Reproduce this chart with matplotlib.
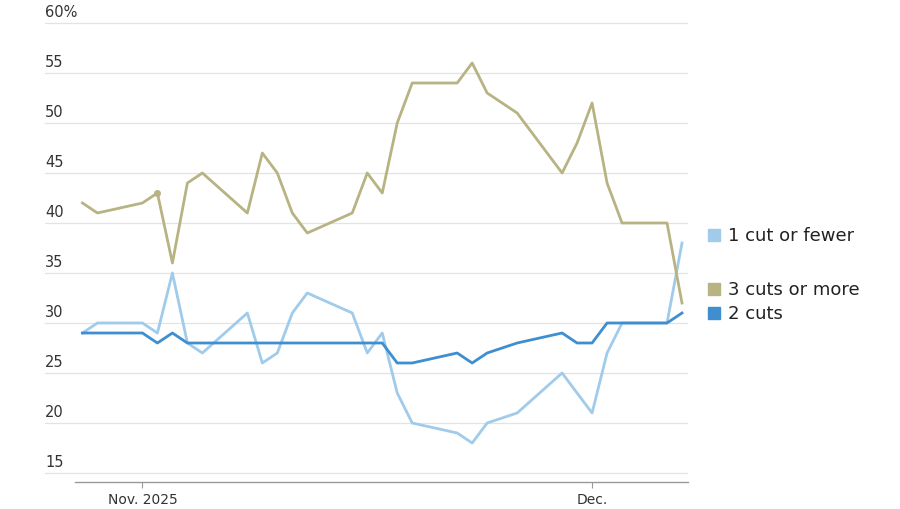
import matplotlib
matplotlib.use("Agg")
import matplotlib.pyplot as plt
import matplotlib.dates as mdates
from datetime import date, timedelta

day_offsets = [-4,-3,0,1,2,3,4,7,8,9,10,11,14,15,16,17,18,21,22,23,25,28,29,30,31,32,35,36]
three_plus = [42,41,42,43,36,44,45,41,47,45,41,39,41,45,43,50,54,54,56,53,51,45,48,52,44,40,40,32]
one_or_fewer = [29,30,30,29,35,28,27,31,26,27,31,33,31,27,29,23,20,19,18,20,21,25,23,21,27,30,30,38]
two_cuts = [29,29,29,28,29,28,28,28,28,28,28,28,28,28,28,26,26,27,26,27,28,29,28,28,30,30,30,31]
yticks = [15,20,25,30,35,40,45,50,55,60]

base = date(2025,11,1)
dates = [base + timedelta(days=d) for d in day_offsets]

c_olive = "#b8b383"
c_light = "#a0cbea"
c_blue = "#3e8ed0"

fig = plt.figure(figsize=(9,5.1), dpi=100)
ax = fig.add_axes([45/900, 1-483/510, (688-45)/900, (483-14)/510])
ax.set_xlim(mdates.date2num(base)-6.5, mdates.date2num(base)+36.4)
ax.set_ylim(14.1, 61.0)

for y in yticks:
    ax.axhline(y, color="#e3e3e3", lw=0.9, zorder=0)
    lab = f"{y}%" if y == 60 else str(y)
    ax.text(0.0, y+0.4, lab, transform=ax.get_yaxis_transform(), fontsize=10.5,
            color="#333333", va="bottom", ha="left")

ax.plot(dates, one_or_fewer, color=c_light, lw=2)
ax.plot(dates, three_plus, color=c_olive, lw=2)
ax.plot(dates, two_cuts, color=c_blue, lw=2)
ax.plot([dates[3]], [three_plus[3]], 'o', color=c_olive, ms=4)

for s in ax.spines.values():
    s.set_visible(False)
ax.axhline(ax.get_ylim()[0], xmin=30/643, xmax=1, color="#999999", lw=1, clip_on=False)
ax.set_yticks([])
ax.set_xticks([mdates.date2num(base), mdates.date2num(date(2025,12,1))])
ax.set_xticklabels(["Nov. 2025", "Dec."], fontsize=10, color="#333333")
ax.tick_params(axis="x", length=4, color="#999999", pad=3)

legend = [("1 cut or fewer", c_light, 236), ("3 cuts or more", c_olive, 290), ("2 cuts", c_blue, 314)]
for lab, col, ypx in legend:
    fig.patches.append(plt.Rectangle((708/900, 1-(ypx+6)/510), 12/900, 12/510,
                                     transform=fig.transFigure, color=col))
    fig.text(728/900, 1-ypx/510, lab, fontsize=13, color="#222222", va="center")

fig.savefig("out.png", dpi=100)
